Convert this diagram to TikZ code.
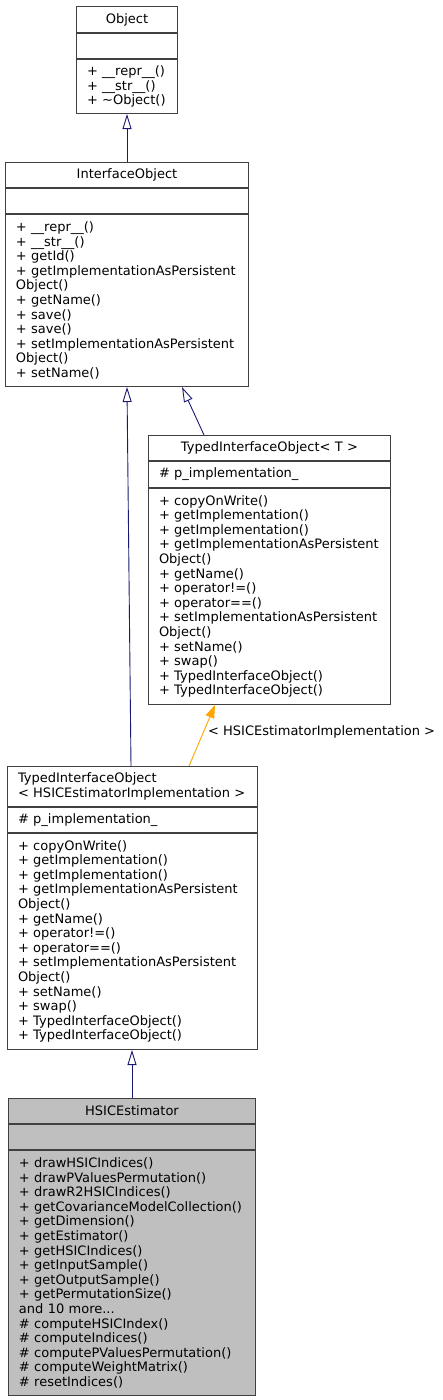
\documentclass[tikz,border=0pt]{standalone}
\usepackage{fontspec}
\setmainfont{DejaVu Sans}
\usetikzlibrary{arrows.meta}
\definecolor{boxgray}{HTML}{404040}
\definecolor{edgeblue}{HTML}{191970}
\definecolor{edgeorange}{HTML}{FFA500}
\definecolor{selfill}{HTML}{BFBFBF}
\newcommand{\umlfont}{\fontsize{13}{14.6}\selectfont}
\begin{document}
\begin{tikzpicture}[x=1pt, y=-1pt,
  cls/.style={draw=boxgray, line width=1pt, anchor=north west, inner xsep=10.5pt, inner ysep=0pt, font=\umlfont, execute at begin node={\hyphenpenalty=10000}},
  clshead/.style={cls, align=center},
  clsbody/.style={cls, align=left},
  inherit/.style={draw=edgeblue, line width=0.9pt, -{Triangle[open, length=15pt, width=9pt]}},
  tmpl/.style={draw=edgeorange, line width=0.9pt, -{Triangle[length=13pt, width=9pt]}}]
\useasboundingbox (0,0) rectangle (443,1400);
% Object
\node[clshead, text width=80pt, minimum height=26pt] (objhead) at (76,6) {Object};
\node[clsbody, text width=80pt, minimum height=25pt] (objattr) at (objhead.south west) {};
\node[clsbody, text width=80pt, minimum height=54pt] (objops) at (objattr.south west) {+~\_\_repr\_\_()\\+~\_\_str\_\_()\\+~\textasciitilde Object()};
% InterfaceObject
\node[clshead, text width=222pt, minimum height=25pt] (ifhead) at (5,162) {InterfaceObject};
\node[clsbody, text width=222pt, minimum height=25pt] (ifattr) at (ifhead.south west) {};
\node[clsbody, text width=222pt, minimum height=172pt] (ifops) at (ifattr.south west) {+~\_\_repr\_\_()\\+~\_\_str\_\_()\\+~getId()\\+~getImplementationAsPersistent\\Object()\\+~getName()\\+~save()\\+~save()\\+~setImplementationAsPersistent\\Object()\\+~setName()};
% TypedInterfaceObject< T >
\node[clshead, text width=221pt, minimum height=25pt] (tthead) at (148,435) {TypedInterfaceObject< T >};
\node[clsbody, text width=221pt, minimum height=26pt] (ttattr) at (tthead.south west) {\#~p\_implementation\_};
\node[clsbody, text width=221pt, minimum height=216pt] (ttops) at (ttattr.south west) {+~copyOnWrite()\\+~getImplementation()\\+~getImplementation()\\+~getImplementationAsPersistent\\Object()\\+~getName()\\+~operator!=()\\+~operator==()\\+~setImplementationAsPersistent\\Object()\\+~setName()\\+~swap()\\+~TypedInterfaceObject()\\+~TypedInterfaceObject()};
% TypedInterfaceObject< HSICEstimatorImplementation >
\node[clsbody, text width=229pt, minimum height=40pt] (tihead) at (7,766) {TypedInterfaceObject\\< HSICEstimatorImplementation >};
\node[clsbody, text width=229pt, minimum height=25pt] (tiattr) at (tihead.south west) {\#~p\_implementation\_};
\node[clsbody, text width=229pt, minimum height=216pt] (tiops) at (tiattr.south west) {+~copyOnWrite()\\+~getImplementation()\\+~getImplementation()\\+~getImplementationAsPersistent\\Object()\\+~getName()\\+~operator!=()\\+~operator==()\\+~setImplementationAsPersistent\\Object()\\+~setName()\\+~swap()\\+~TypedInterfaceObject()\\+~TypedInterfaceObject()};
% HSICEstimator
\node[clshead, fill=selfill, text width=226pt, minimum height=25pt] (hshead) at (8,1098) {HSICEstimator};
\node[clsbody, fill=selfill, text width=226pt, minimum height=25pt] (hsattr) at (hshead.south west) {};
\node[clsbody, fill=selfill, text width=226pt, minimum height=245pt] (hsops) at (hsattr.south west) {+~drawHSICIndices()\\+~drawPValuesPermutation()\\+~drawR2HSICIndices()\\+~getCovarianceModelCollection()\\+~getDimension()\\+~getEstimator()\\+~getHSICIndices()\\+~getInputSample()\\+~getOutputSample()\\+~getPermutationSize()\\and~10~more...\\\#~computeHSICIndex()\\\#~computeIndices()\\\#~computePValuesPermutation()\\\#~computeWeightMatrix()\\\#~resetIndices()};
\node[font=\umlfont, anchor=west, inner sep=0pt] (tmpllabel) at (208,732) {< HSICEstimatorImplementation >};
% inheritance
\draw[inherit] (ifhead.north) -- (objops.south);
\draw[inherit] ([xshift=56pt]tthead.north west) -- ([xshift=177pt]ifops.south west);
\draw[inherit] ([xshift=124pt]tihead.north west) -- ([xshift=122pt]ifops.south west);
\draw[tmpl] ([xshift=182pt]tihead.north west) -- ([xshift=67pt]ttops.south west);
\draw[inherit] (hshead.north) -- (hshead.north |- tiops.south);
\end{tikzpicture}
\end{document}
